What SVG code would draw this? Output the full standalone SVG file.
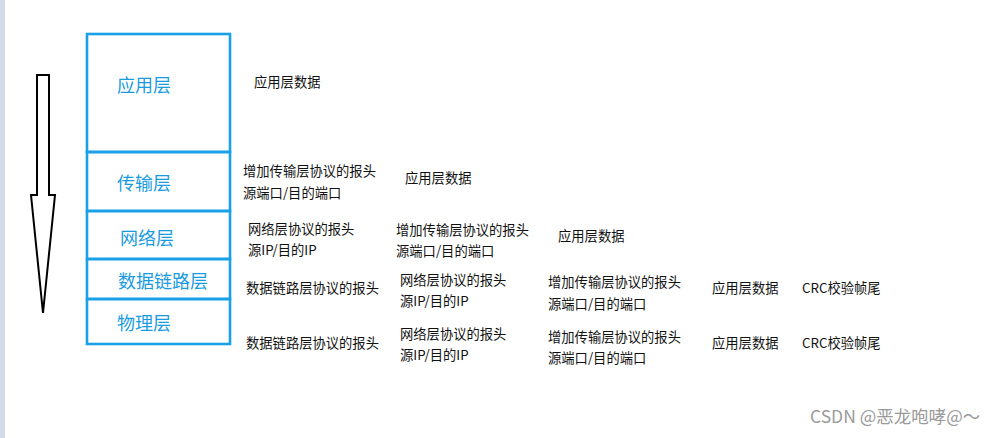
<svg xmlns="http://www.w3.org/2000/svg" width="1008" height="438" viewBox="0 0 1008 438">
<style>
.box{fill:none;stroke:#1aa0e6;stroke-width:2.6}
.lbl{font-family:"Noto Sans CJK SC","Microsoft YaHei",sans-serif;font-size:18px;fill:#1a9be0}
.t{font-family:"Noto Sans CJK SC","Microsoft YaHei",sans-serif;font-size:13.3px;fill:#111}
.wm{font-family:"Noto Sans CJK SC","Microsoft YaHei",sans-serif;font-size:17.5px;fill:#9a9a9a}
</style>
<rect x="0" y="0" width="1008" height="438" fill="#ffffff"/>
<rect x="0" y="0" width="5" height="438" fill="#d3dbe9"/>
<g id="arrow">
<polygon points="37,75 49,75 49,195 55,195 43,313 31,195 37,195" fill="#fff" stroke="#000" stroke-width="2" stroke-linejoin="miter"/>
</g>
<g id="layer-app"><rect class="box" x="87" y="34" width="143" height="118"/><text class="lbl" x="117" y="92">应用层</text></g>
<g id="layer-transport"><rect class="box" x="87" y="152" width="143" height="59"/><text class="lbl" x="117" y="190">传输层</text></g>
<g id="layer-network"><rect class="box" x="87" y="211" width="143" height="48"/><text class="lbl" x="120" y="245">网络层</text></g>
<g id="layer-link"><rect class="box" x="87" y="259" width="143" height="40"/><text class="lbl" x="118" y="288">数据链路层</text></g>
<g id="layer-physical"><rect class="box" x="87" y="299" width="143" height="45"/><text class="lbl" x="117" y="330">物理层</text></g>
<g id="row-app"><text class="t" x="254" y="87">应用层数据</text></g>
<g id="row-transport">
<text class="t" x="243" y="176">增加传输层协议的报头</text>
<text class="t" x="243" y="198">源端口/目的端口</text>
<text class="t" x="405" y="183">应用层数据</text>
</g>
<g id="row-network">
<text class="t" x="248" y="234">网络层协议的报头</text>
<text class="t" x="248" y="255">源IP/目的IP</text>
<text class="t" x="396" y="235">增加传输层协议的报头</text>
<text class="t" x="396" y="256">源端口/目的端口</text>
<text class="t" x="558" y="241">应用层数据</text>
</g>
<g id="row-link">
<text class="t" x="246" y="293">数据链路层协议的报头</text>
<text class="t" x="400" y="285">网络层协议的报头</text>
<text class="t" x="400" y="306">源IP/目的IP</text>
<text class="t" x="548" y="287">增加传输层协议的报头</text>
<text class="t" x="548" y="309">源端口/目的端口</text>
<text class="t" x="712" y="293">应用层数据</text>
<text class="t" x="802" y="293">CRC校验帧尾</text>
</g>
<g id="row-physical">
<text class="t" x="246" y="348">数据链路层协议的报头</text>
<text class="t" x="400" y="339">网络层协议的报头</text>
<text class="t" x="400" y="360">源IP/目的IP</text>
<text class="t" x="548" y="342">增加传输层协议的报头</text>
<text class="t" x="548" y="363">源端口/目的端口</text>
<text class="t" x="712" y="348">应用层数据</text>
<text class="t" x="802" y="348">CRC校验帧尾</text>
</g>
<text class="wm" x="810" y="423">CSDN @恶龙咆哮@～</text>
</svg>
